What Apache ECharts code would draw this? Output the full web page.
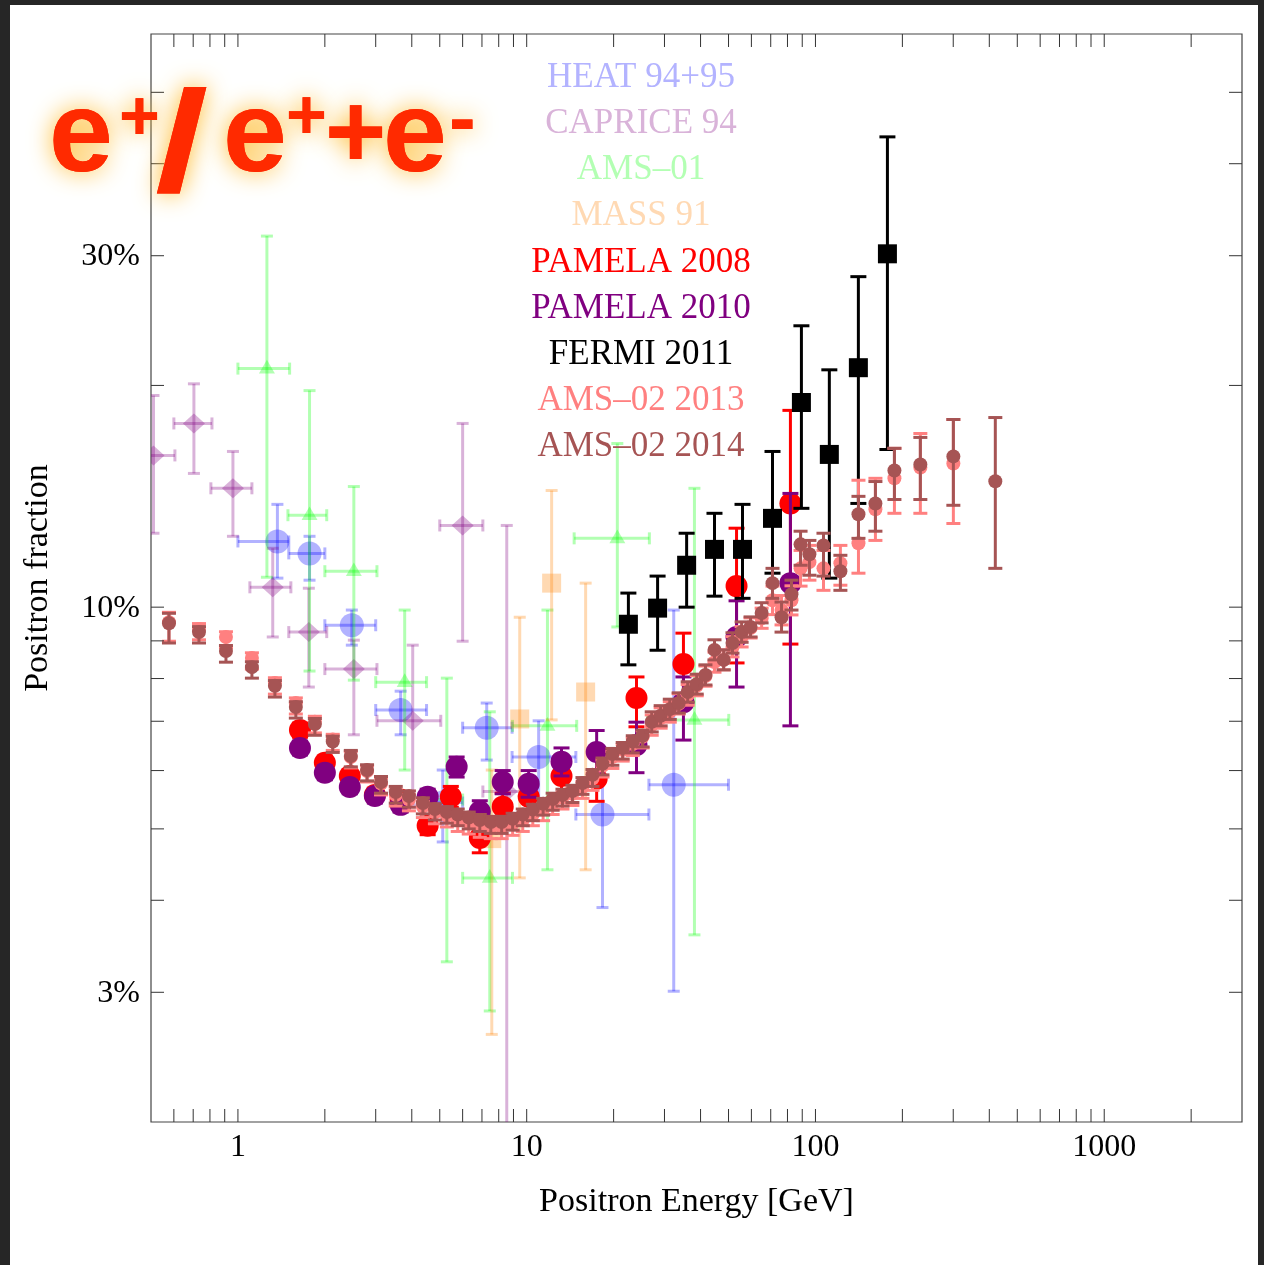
<!DOCTYPE html>
<html>
<head>
<meta charset="utf-8">
<script src="https://cdn.jsdelivr.net/npm/echarts@6/dist/echarts.min.js"></script>
<style>
  html, body { margin: 0; padding: 0; background: #262626; }
  #chart { width: 1264px; height: 1265px; }
</style>
</head>
<body>
<div id="chart"></div>
<script>
// Positron fraction measurements. Energies in GeV, fractions in percent.
// Rows with energy bins: [E, Elow, Ehigh, frac, fracLow, fracHigh]
const heat9495 = [
  [1.37, 1.0, 1.5, 12.28, 10.95, 13.79],
  [1.77, 1.5, 2.0, 11.83, 10.88, 12.48],
  [2.48, 2.0, 3.0, 9.45, 8.88, 9.91],
  [3.66, 3.0, 4.5, 7.25, 6.71, 7.69],
  [5.12, 4.5, 6.0, 5.43, 4.80, 6.01],
  [7.27, 6.0, 8.9, 6.86, 6.20, 7.41],
  [11.0, 8.9, 14.8, 6.26, 5.48, 7.01],
  [18.3, 14.8, 26.5, 5.23, 3.91, 6.24],
  [32.3, 26.5, 50.0, 5.74, 3.01, 9.91]
];
const caprice94 = [
  [0.51, 0.44, 0.605, 16.07, 12.6, 19.38],
  [0.704, 0.60, 0.813, 17.76, 15.19, 20.1],
  [0.961, 0.806, 1.118, 14.5, 12.48, 16.27],
  [1.32, 1.10, 1.525, 10.64, 9.11, 12.02],
  [1.76, 1.50, 2.03, 9.25, 7.79, 10.61],
  [2.52, 2.0, 3.03, 8.24, 6.71, 9.02],
  [4.03, 3.03, 5.04, 7.01, 5.39, 8.88],
  [6.0, 5.0, 7.05, 12.91, 8.99, 17.76],
  [8.53, 7.05, 10.5, 5.62, 1.5, 12.91]
];
const ams01 = [
  [1.26, 1.0, 1.51, 21.08, 10.98, 31.9],
  [1.77, 1.49, 2.03, 13.33, 8.19, 19.68],
  [2.52, 2.0, 3.03, 11.19, 7.96, 14.58],
  [3.78, 3.0, 4.5, 7.91, 6.01, 9.91],
  [5.29, 4.5, 6.0, 5.48, 3.30, 8.01],
  [7.45, 6.0, 8.93, 4.29, 2.83, 7.21],
  [11.8, 8.93, 14.9, 6.90, 4.40, 9.91],
  [20.6, 14.6, 26.6, 12.40, 9.40, 16.68],
  [38.1, 26.2, 50.1, 7.03, 3.59, 14.5]
];
// Rows without energy bins: [E, frac, fracLow, fracHigh]
const mass91 = [
  [7.57, 4.85, 2.63, 6.01],
  [9.46, 7.05, 4.29, 9.69],
  [12.2, 10.78, 7.03, 14.4],
  [16.0, 7.67, 4.40, 10.78]
];
const pamela2008 = [
  [1.64, 6.81, 6.66, 6.96],
  [2.0, 6.15, 6.02, 6.28],
  [2.44, 5.90, 5.78, 6.02],
  [2.98, 5.56, 5.44, 5.68],
  [3.66, 5.48, 5.36, 5.60],
  [4.54, 5.05, 4.91, 5.19],
  [5.46, 5.53, 5.35, 5.71],
  [6.88, 4.86, 4.64, 5.08],
  [8.26, 5.36, 5.13, 5.59],
  [10.16, 5.53, 5.24, 5.82],
  [13.2, 5.90, 5.57, 6.23],
  [17.47, 5.85, 5.45, 6.25],
  [24.0, 7.53, 6.88, 8.04],
  [34.9, 8.37, 7.48, 9.22],
  [53.3, 10.68, 8.4, 12.8],
  [81.9, 13.83, 8.91, 18.5]
];
const pamela2010 = [
  [1.64, 6.44, 6.30, 6.58],
  [2.0, 5.96, 5.83, 6.09],
  [2.44, 5.70, 5.58, 5.82],
  [2.98, 5.54, 5.42, 5.66],
  [3.66, 5.39, 5.27, 5.51],
  [4.54, 5.53, 5.40, 5.66],
  [5.72, 6.07, 5.88, 6.26],
  [6.88, 5.28, 5.10, 5.46],
  [8.26, 5.79, 5.58, 6.00],
  [10.16, 5.76, 5.52, 6.00],
  [13.2, 6.17, 5.90, 6.44],
  [17.47, 6.36, 5.96, 6.80],
  [24.0, 6.50, 5.96, 6.98],
  [34.9, 7.43, 6.60, 8.04],
  [53.3, 9.11, 7.79, 10.2],
  [81.9, 10.78, 6.90, 14.27]
];
const fermi2011 = [
  [22.5, 9.48, 8.35, 10.45],
  [28.4, 9.97, 8.74, 11.02],
  [35.8, 11.40, 10.0, 12.6],
  [44.7, 11.98, 10.35, 13.41],
  [55.9, 11.98, 10.28, 13.79],
  [71.0, 13.2, 11.12, 16.27],
  [89.4, 18.96, 13.62, 24.1],
  [111.7, 16.12, 10.95, 21.0],
  [140.8, 21.14, 13.83, 28.1],
  [177.5, 30.18, 16.37, 43.5]
];
// AMS-02 rows: [E, frac, errDown, errUp]
const ams02y2013 = [
  [0.577, 9.54, 0.55, 0.30], [0.733, 9.34, 0.31, 0.16], [0.909, 9.11, 0.31, 0.15],
  [1.118, 8.53, 0.29, 0.14], [1.343, 7.89, 0.27, 0.13], [1.587, 7.41, 0.25, 0.12],
  [1.847, 6.99, 0.24, 0.12], [2.13, 6.61, 0.22, 0.11], [2.46, 6.26, 0.21, 0.11],
  [2.80, 5.99, 0.20, 0.10], [3.13, 5.76, 0.20, 0.10], [3.52, 5.56, 0.19, 0.09],
  [3.91, 5.48, 0.19, 0.09], [4.37, 5.36, 0.18, 0.09], [4.81, 5.26, 0.18, 0.09],
  [5.29, 5.21, 0.18, 0.09], [5.77, 5.14, 0.18, 0.09], [6.30, 5.10, 0.18, 0.09],
  [6.88, 5.05, 0.18, 0.09], [7.51, 5.03, 0.18, 0.09], [8.19, 5.03, 0.18, 0.09],
  [8.94, 5.08, 0.18, 0.09], [9.69, 5.14, 0.18, 0.09], [10.5, 5.23, 0.18, 0.09],
  [11.4, 5.32, 0.19, 0.09], [12.3, 5.42, 0.19, 0.09], [13.3, 5.51, 0.19, 0.10],
  [14.4, 5.58, 0.20, 0.10], [15.6, 5.70, 0.20, 0.10], [16.9, 5.85, 0.21, 0.10],
  [18.3, 6.09, 0.21, 0.11], [19.8, 6.26, 0.22, 0.11], [21.5, 6.40, 0.22, 0.11],
  [23.3, 6.52, 0.23, 0.12], [25.2, 6.67, 0.23, 0.12], [27.1, 6.92, 0.22, 0.22],
  [29.1, 7.07, 0.22, 0.23], [31.3, 7.21, 0.23, 0.23], [33.6, 7.39, 0.23, 0.24],
  [36.1, 7.60, 0.24, 0.25], [38.8, 7.82, 0.24, 0.25], [41.6, 8.06, 0.25, 0.26],
  [44.7, 8.42, 0.26, 0.27], [48.1, 8.48, 0.26, 0.27], [51.6, 8.83, 0.27, 0.29],
  [55.5, 9.11, 0.28, 0.30], [59.6, 9.37, 0.29, 0.30], [65.1, 9.66, 0.30, 0.31],
  [71.0, 10.22, 0.45, 0.46], [76.3, 9.91, 0.45, 0.46], [82.6, 10.22, 0.46, 0.47],
  [88.8, 11.29, 0.61, 0.65], [95.3, 11.51, 0.63, 0.62], [106.6, 11.29, 0.75, 0.65],
  [122.0, 11.47, 0.76, 0.66], [140.9, 12.21, 1.09, 2.66], [161.3, 13.58, 1.26, 1.38],
  [187.7, 14.96, 1.55, 1.47], [230.8, 15.47, 2.06, 1.74], [300.3, 15.67, 2.68, 2.31]
];
const ams02y2014 = [
  [0.577, 9.51, 0.57, 0.30], [0.733, 9.25, 0.31, 0.16], [0.909, 8.72, 0.30, 0.15],
  [1.118, 8.29, 0.28, 0.14], [1.343, 7.82, 0.27, 0.13], [1.587, 7.32, 0.25, 0.12],
  [1.847, 6.94, 0.24, 0.12], [2.13, 6.57, 0.22, 0.11], [2.46, 6.28, 0.21, 0.11],
  [2.80, 6.01, 0.20, 0.10], [3.13, 5.79, 0.20, 0.10], [3.52, 5.61, 0.19, 0.10],
  [3.91, 5.54, 0.19, 0.09], [4.37, 5.42, 0.18, 0.09], [4.81, 5.32, 0.18, 0.09],
  [5.29, 5.27, 0.18, 0.09], [5.77, 5.23, 0.18, 0.09], [6.30, 5.18, 0.18, 0.09],
  [6.88, 5.14, 0.18, 0.09], [7.51, 5.11, 0.18, 0.09], [8.19, 5.11, 0.18, 0.09],
  [8.94, 5.16, 0.18, 0.09], [9.69, 5.23, 0.18, 0.09], [10.5, 5.31, 0.18, 0.09],
  [11.4, 5.41, 0.19, 0.09], [12.3, 5.49, 0.19, 0.10], [13.3, 5.56, 0.19, 0.10],
  [14.4, 5.63, 0.20, 0.10], [15.6, 5.77, 0.20, 0.10], [16.9, 5.92, 0.21, 0.10],
  [18.3, 6.13, 0.21, 0.11], [19.8, 6.32, 0.22, 0.11], [21.5, 6.44, 0.22, 0.11],
  [23.3, 6.57, 0.23, 0.12], [25.2, 6.69, 0.23, 0.12], [27.1, 6.99, 0.22, 0.22],
  [29.1, 7.12, 0.22, 0.23], [31.3, 7.27, 0.23, 0.23], [33.6, 7.41, 0.23, 0.24],
  [36.1, 7.67, 0.24, 0.25], [38.8, 7.86, 0.24, 0.25], [41.6, 8.09, 0.25, 0.26],
  [44.7, 8.75, 0.27, 0.28], [48.1, 8.48, 0.26, 0.27], [51.6, 8.94, 0.28, 0.29],
  [55.5, 9.25, 0.29, 0.30], [59.6, 9.40, 0.29, 0.30], [65.1, 9.82, 0.30, 0.32],
  [71.0, 10.78, 0.50, 0.51], [76.3, 9.69, 0.44, 0.47], [82.6, 10.41, 0.50, 0.47],
  [88.8, 12.17, 0.77, 0.51], [95.3, 11.80, 0.75, 0.52], [106.6, 12.13, 1.11, 0.47],
  [122.0, 11.19, 0.65, 0.57], [140.9, 13.37, 0.97, 0.77], [161.3, 13.83, 1.15, 0.98],
  [187.7, 15.33, 1.33, 1.10], [230.8, 15.62, 1.62, 1.38], [300.3, 16.02, 2.27, 1.96],
  [419.6, 14.82, 3.53, 3.27]
];

// Axis ticks and labels
const xTicks = [0.6, 0.7, 0.8, 0.9, 1, 2, 3, 4, 5, 6, 7, 8, 9, 10, 20, 30, 40, 50, 60, 70, 80, 90,
                100, 200, 300, 400, 500, 600, 700, 800, 900, 1000, 2000];
const xLabels = [1, 10, 100, 1000];
const yTicks = [3, 4, 5, 6, 7, 8, 9, 10, 20, 30, 40, 50];
const yLabels = [3, 10, 30];

const legendNames = ['HEAT 94+95', 'CAPRICE 94', 'AMS\u201301', 'MASS 91', 'PAMELA 2008',
                     'PAMELA 2010', 'FERMI 2011', 'AMS\u201302 2013', 'AMS\u201302 2014'];
const legendColors = ['#b3b3ff', '#d9b3d9', '#b3ffb3', '#ffd9b3', '#ff0000',
                      '#800080', '#000000', '#ff8080', '#a65454'];

const X_MIN = 0.5, X_MAX = 3000, Y_MIN = 2, Y_MAX = 60;
const SERIF = '"Liberation Serif", "Times New Roman", serif';

function seg(x1, y1, x2, y2, color, w) {
  return { type: 'line', shape: { x1: x1, y1: y1, x2: x2, y2: y2 }, style: { stroke: color, lineWidth: w } };
}

function marker(st, cx, cy) {
  const s = st.size, c = st.color;
  if (st.shape === 'circle') return { type: 'circle', shape: { cx: cx, cy: cy, r: s }, style: { fill: c } };
  if (st.shape === 'square') return { type: 'rect', shape: { x: cx - s, y: cy - s, width: 2 * s, height: 2 * s }, style: { fill: c } };
  if (st.shape === 'diamond') return { type: 'polygon', shape: { points: [[cx - s * 1.1, cy], [cx, cy - s], [cx + s * 1.1, cy], [cx, cy + s]] }, style: { fill: c } };
  return { type: 'polygon', shape: { points: [[cx, cy - s * 1.1], [cx + s, cy + s * 0.6], [cx - s, cy + s * 0.6]] }, style: { fill: c } };
}

// Error-bar point renderer: vertical bar with caps, optional horizontal bin bar, then marker
function makeRender(st) {
  return function (params, api) {
    const e = api.value(0);
    let f, flo, fhi, elo, ehi;
    if (st.xerr) {
      elo = api.value(1); ehi = api.value(2);
      f = api.value(3); flo = api.value(4); fhi = api.value(5);
    } else {
      f = api.value(1); flo = api.value(2); fhi = api.value(3);
    }
    const p = api.coord([e, f]);
    const lo = api.coord([e, flo])[1];
    const hi = api.coord([e, fhi])[1];
    const h = st.cap / 2;
    const ch = [
      seg(p[0], lo, p[0], hi, st.color, st.lw),
      seg(p[0] - h, lo, p[0] + h, lo, st.color, st.lw),
      seg(p[0] - h, hi, p[0] + h, hi, st.color, st.lw)
    ];
    if (st.xerr) {
      const xl = api.coord([elo, f])[0];
      const xh = api.coord([ehi, f])[0];
      ch.push(seg(xl, p[1], xh, p[1], st.color, st.lw));
      ch.push(seg(xl, p[1] - h, xl, p[1] + h, st.color, st.lw));
      ch.push(seg(xh, p[1] - h, xh, p[1] + h, st.color, st.lw));
    }
    ch.push(marker(st, p[0], p[1]));
    return { type: 'group', children: ch };
  };
}

function toBounds(rows) {
  return rows.map(function (r) { return [r[0], r[1], r[1] - r[2], r[1] + r[3]]; });
}

const datasets = [
  { rows: heat9495, xerr: true, shape: 'circle', size: 12, color: 'rgba(0,0,255,0.3)', lw: 3, cap: 12 },
  { rows: caprice94, xerr: true, shape: 'diamond', size: 10, color: 'rgba(128,0,128,0.3)', lw: 3, cap: 12 },
  { rows: ams01, xerr: true, shape: 'triangle', size: 8, color: 'rgba(0,255,0,0.3)', lw: 3, cap: 12 },
  { rows: mass91, xerr: false, shape: 'square', size: 9.5, color: 'rgba(255,128,0,0.3)', lw: 3, cap: 12 },
  { rows: pamela2008, xerr: false, shape: 'circle', size: 11, color: '#ff0000', lw: 3, cap: 16 },
  { rows: pamela2010, xerr: false, shape: 'circle', size: 11, color: '#800080', lw: 3, cap: 16 },
  { rows: fermi2011, xerr: false, shape: 'square', size: 9.5, color: '#000000', lw: 3, cap: 16 },
  { rows: toBounds(ams02y2013), xerr: false, shape: 'circle', size: 7, color: '#ff8080', lw: 3, cap: 14 },
  { rows: toBounds(ams02y2014), xerr: false, shape: 'circle', size: 7, color: '#a65454', lw: 3, cap: 14 }
];

const series = datasets.map(function (d, i) {
  return {
    type: 'custom',
    name: legendNames[i],
    data: d.rows,
    encode: { x: 0, y: d.xerr ? 3 : 1 },
    renderItem: makeRender(d),
    clip: true,
    silent: true,
    z: 3
  };
});

// Inward ticks on all four sides
series.push({
  type: 'custom', data: xTicks.map(function (v) { return [v, 10]; }), encode: { x: 0, y: 1 },
  silent: true, z: 5,
  renderItem: function (params, api) {
    const v = api.value(0);
    const b = api.coord([v, Y_MIN]), t = api.coord([v, Y_MAX]);
    return { type: 'group', children: [
      seg(b[0], b[1], b[0], b[1] - 13, '#333', 1),
      seg(t[0], t[1], t[0], t[1] + 13, '#333', 1)
    ] };
  }
});
series.push({
  type: 'custom', data: yTicks.map(function (v) { return [1, v]; }), encode: { x: 0, y: 1 },
  silent: true, z: 5,
  renderItem: function (params, api) {
    const v = api.value(1);
    const l = api.coord([X_MIN, v]), r = api.coord([X_MAX, v]);
    return { type: 'group', children: [
      seg(l[0], l[1], l[0] + 13, l[1], '#333', 1),
      seg(r[0], r[1], r[0] - 13, r[1], '#333', 1)
    ] };
  }
});
// Tick labels
series.push({
  type: 'custom', data: xLabels.map(function (v) { return [v, Y_MIN]; }), encode: { x: 0, y: 1 },
  silent: true, z: 5,
  renderItem: function (params, api) {
    const v = api.value(0);
    const p = api.coord([v, Y_MIN]);
    return { type: 'text', x: p[0], y: p[1] + 26,
      style: { text: String(v), font: '32px ' + SERIF, fill: '#000', align: 'center', verticalAlign: 'middle' } };
  }
});
series.push({
  type: 'custom', data: yLabels.map(function (v) { return [X_MIN, v]; }), encode: { x: 0, y: 1 },
  silent: true, z: 5,
  renderItem: function (params, api) {
    const v = api.value(1);
    const p = api.coord([X_MIN, v]);
    return { type: 'text', x: p[0] - 11, y: p[1] + 1,
      style: { text: v + '%', font: '32px ' + SERIF, fill: '#000', align: 'right', verticalAlign: 'middle' } };
  }
});

// Legend block (text only, centred)
const graphics = [
  { type: 'rect', z: -100, shape: { x: 10, y: 5, width: 1248, height: 1260 }, style: { fill: '#ffffff' } }
];
legendNames.forEach(function (n, i) {
  graphics.push({ type: 'text', z: 50, x: 641, y: 78 + i * 46.1,
    style: { text: n, font: '35px ' + SERIF, fill: legendColors[i], align: 'center', verticalAlign: 'middle' } });
});

// Glowing "e+/e++e-" badge: a soft orange halo layer under the solid letters
function badge(txt, x, y, size, halo, extra) {
  const style = { text: txt, font: 'bold ' + size + 'px "Liberation Sans", Arial, sans-serif',
    align: 'left', verticalAlign: 'middle', fill: '#ff2a00' };
  if (halo) {
    style.textShadowBlur = 24;
    style.textShadowColor = 'rgba(255,185,40,1)';
  }
  return Object.assign({ type: 'text', z: halo ? 59 : 60, x: x, y: y, style: style }, extra || {});
}
const badgeParts = [
  ['e', 49, 139, 115, null],
  ['+', 119, 121, 70, null],
  ['/', 155, 152, 142, { scaleX: 1.35 }],
  ['e', 223, 139, 115, null],
  ['+', 286, 120, 70, null],
  ['+', 325, 138, 105, null],
  ['e', 383, 139, 115, null],
  ['-', 449, 123, 80, null]
];
[true, false].forEach(function (halo) {
  badgeParts.forEach(function (b) {
    graphics.push(badge(b[0], b[1], b[2], b[3], halo, b[4]));
  });
});

const chart = echarts.init(document.getElementById('chart'), null, { renderer: 'canvas' });
chart.setOption({
  animation: false,
  backgroundColor: '#262626',
  grid: { left: 151, top: 34, width: 1091, height: 1088, show: true,
          borderColor: '#444', borderWidth: 1.2, backgroundColor: '#ffffff' },
  xAxis: {
    type: 'log', logBase: 10, min: X_MIN, max: X_MAX,
    axisLine: { show: false }, axisTick: { show: false }, axisLabel: { show: false }, splitLine: { show: false },
    name: 'Positron Energy [GeV]', nameLocation: 'middle', nameGap: 63,
    nameTextStyle: { fontFamily: SERIF, fontSize: 34, color: '#000' }
  },
  yAxis: {
    type: 'log', logBase: 10, min: Y_MIN, max: Y_MAX,
    axisLine: { show: false }, axisTick: { show: false }, axisLabel: { show: false }, splitLine: { show: false },
    name: 'Positron fraction', nameLocation: 'middle', nameGap: 96,
    nameTextStyle: { fontFamily: SERIF, fontSize: 34, color: '#000' }
  },
  graphic: graphics,
  series: series
});
</script>
</body>
</html>
